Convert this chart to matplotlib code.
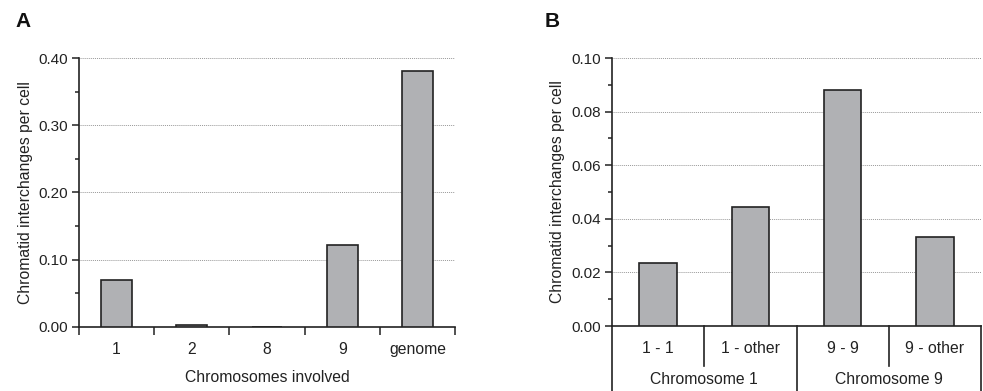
import numpy as np
import matplotlib.pyplot as plt
import matplotlib.transforms as mtransforms
from matplotlib.ticker import MultipleLocator

plt.rcParams['font.family'] = ['Liberation Sans', 'DejaVu Sans']

# panel A data
chrom_a = ['1', '2', '8', '9', 'genome']
rate_a = [0.070, 0.003, 0.0, 0.122, 0.380]

# panel B data
pairs_b = ['1 - 1', '1 - other', '9 - 9', '9 - other']
groups_b = ['Chromosome 1', 'Chromosome 9']
rate_b = [0.0234, 0.0445, 0.088, 0.0333]

W, H = 983, 391
fig = plt.figure(figsize=(W/100, H/100), dpi=100)

barcol = '#b0b1b4'
edgecol = '#222222'
txtcol = '#222222'
ylab = 'Chromatid interchanges per cell'
fs = 11.3

def px_axes(l, t, r, b):
    return fig.add_axes([l/W, 1-b/H, (r-l)/W, (b-t)/H])

def style(ax, ymax, major, minor):
    ax.set_ylim(0, ymax)
    ax.yaxis.set_major_locator(MultipleLocator(major))
    ax.yaxis.set_minor_locator(MultipleLocator(minor))
    ax.yaxis.set_major_formatter(plt.FormatStrFormatter('%.2f'))
    ax.grid(axis='y', which='major', color='#999999', linestyle=(0, (1, 1)), linewidth=0.7)
    ax.set_axisbelow(True)
    for s in ['top', 'right']:
        ax.spines[s].set_visible(False)
    for s in ['left', 'bottom']:
        ax.spines[s].set_linewidth(1.2)
        ax.spines[s].set_color(edgecol)
    ax.tick_params(axis='y', which='major', length=5, width=1.1, color=edgecol,
                   labelsize=11, labelcolor=txtcol, pad=3)
    ax.tick_params(axis='y', which='minor', length=3, width=1.1, color=edgecol)
    ax.set_ylabel(ylab, fontsize=fs, color=txtcol)

# ---- A ----
axA = px_axes(79, 58, 455, 327)
xa = np.arange(len(chrom_a))
axA.bar(xa, rate_a, width=0.41, color=barcol, edgecolor=edgecol, linewidth=1.2, zorder=3)
axA.set_xlim(-0.5, len(chrom_a) - 0.5)
style(axA, 0.40, 0.10, 0.05)
axA.set_xticks(xa)
axA.set_xticklabels(chrom_a)
axA.set_xticks(np.arange(len(chrom_a) + 1) - 0.5, minor=True)
axA.tick_params(axis='x', which='major', length=0, labelsize=fs, labelcolor=txtcol, pad=11)
axA.tick_params(axis='x', which='minor', length=6, width=1.1, color=edgecol)
axA.set_xlabel('Chromosomes involved', fontsize=fs, color=txtcol, labelpad=9)
axA.yaxis.set_label_coords(-0.122, 0.5)
fig.text(15/W, 1-27/H, 'A', fontsize=15, fontweight='bold', color='#111111')

# ---- B ----
axB = px_axes(612, 58, 981, 326)
xb = np.arange(len(pairs_b))
axB.bar(xb, rate_b, width=0.405, color=barcol, edgecolor=edgecol, linewidth=1.2, zorder=3)
axB.set_xlim(-0.5, len(pairs_b) - 0.5)
style(axB, 0.10, 0.02, 0.01)
axB.set_xticks(xb)
axB.set_xticklabels(pairs_b)
axB.tick_params(axis='x', which='major', length=0, labelsize=fs, labelcolor=txtcol, pad=11)
axB.yaxis.set_label_coords(-0.128, 0.5)

trans = mtransforms.blended_transform_factory(axB.transData, axB.transAxes)
short = -(366 - 326) / 268
long_ = -(391 - 326) / 268
for xpos, y1 in [(-0.5, long_), (0.5, short), (1.5, long_), (2.5, short), (3.5, long_)]:
    axB.plot([xpos, xpos], [0, y1], transform=trans, color=edgecol, linewidth=1.2, clip_on=False)
for i, g in enumerate(groups_b):
    axB.text(2*i + 0.5, -(380 - 326) / 268, g, transform=trans, ha='center', va='center',
             fontsize=fs, color=txtcol)
fig.text(545/W, 1-27/H, 'B', fontsize=15, fontweight='bold', color='#111111')

fig.savefig('out.png', dpi=100)
